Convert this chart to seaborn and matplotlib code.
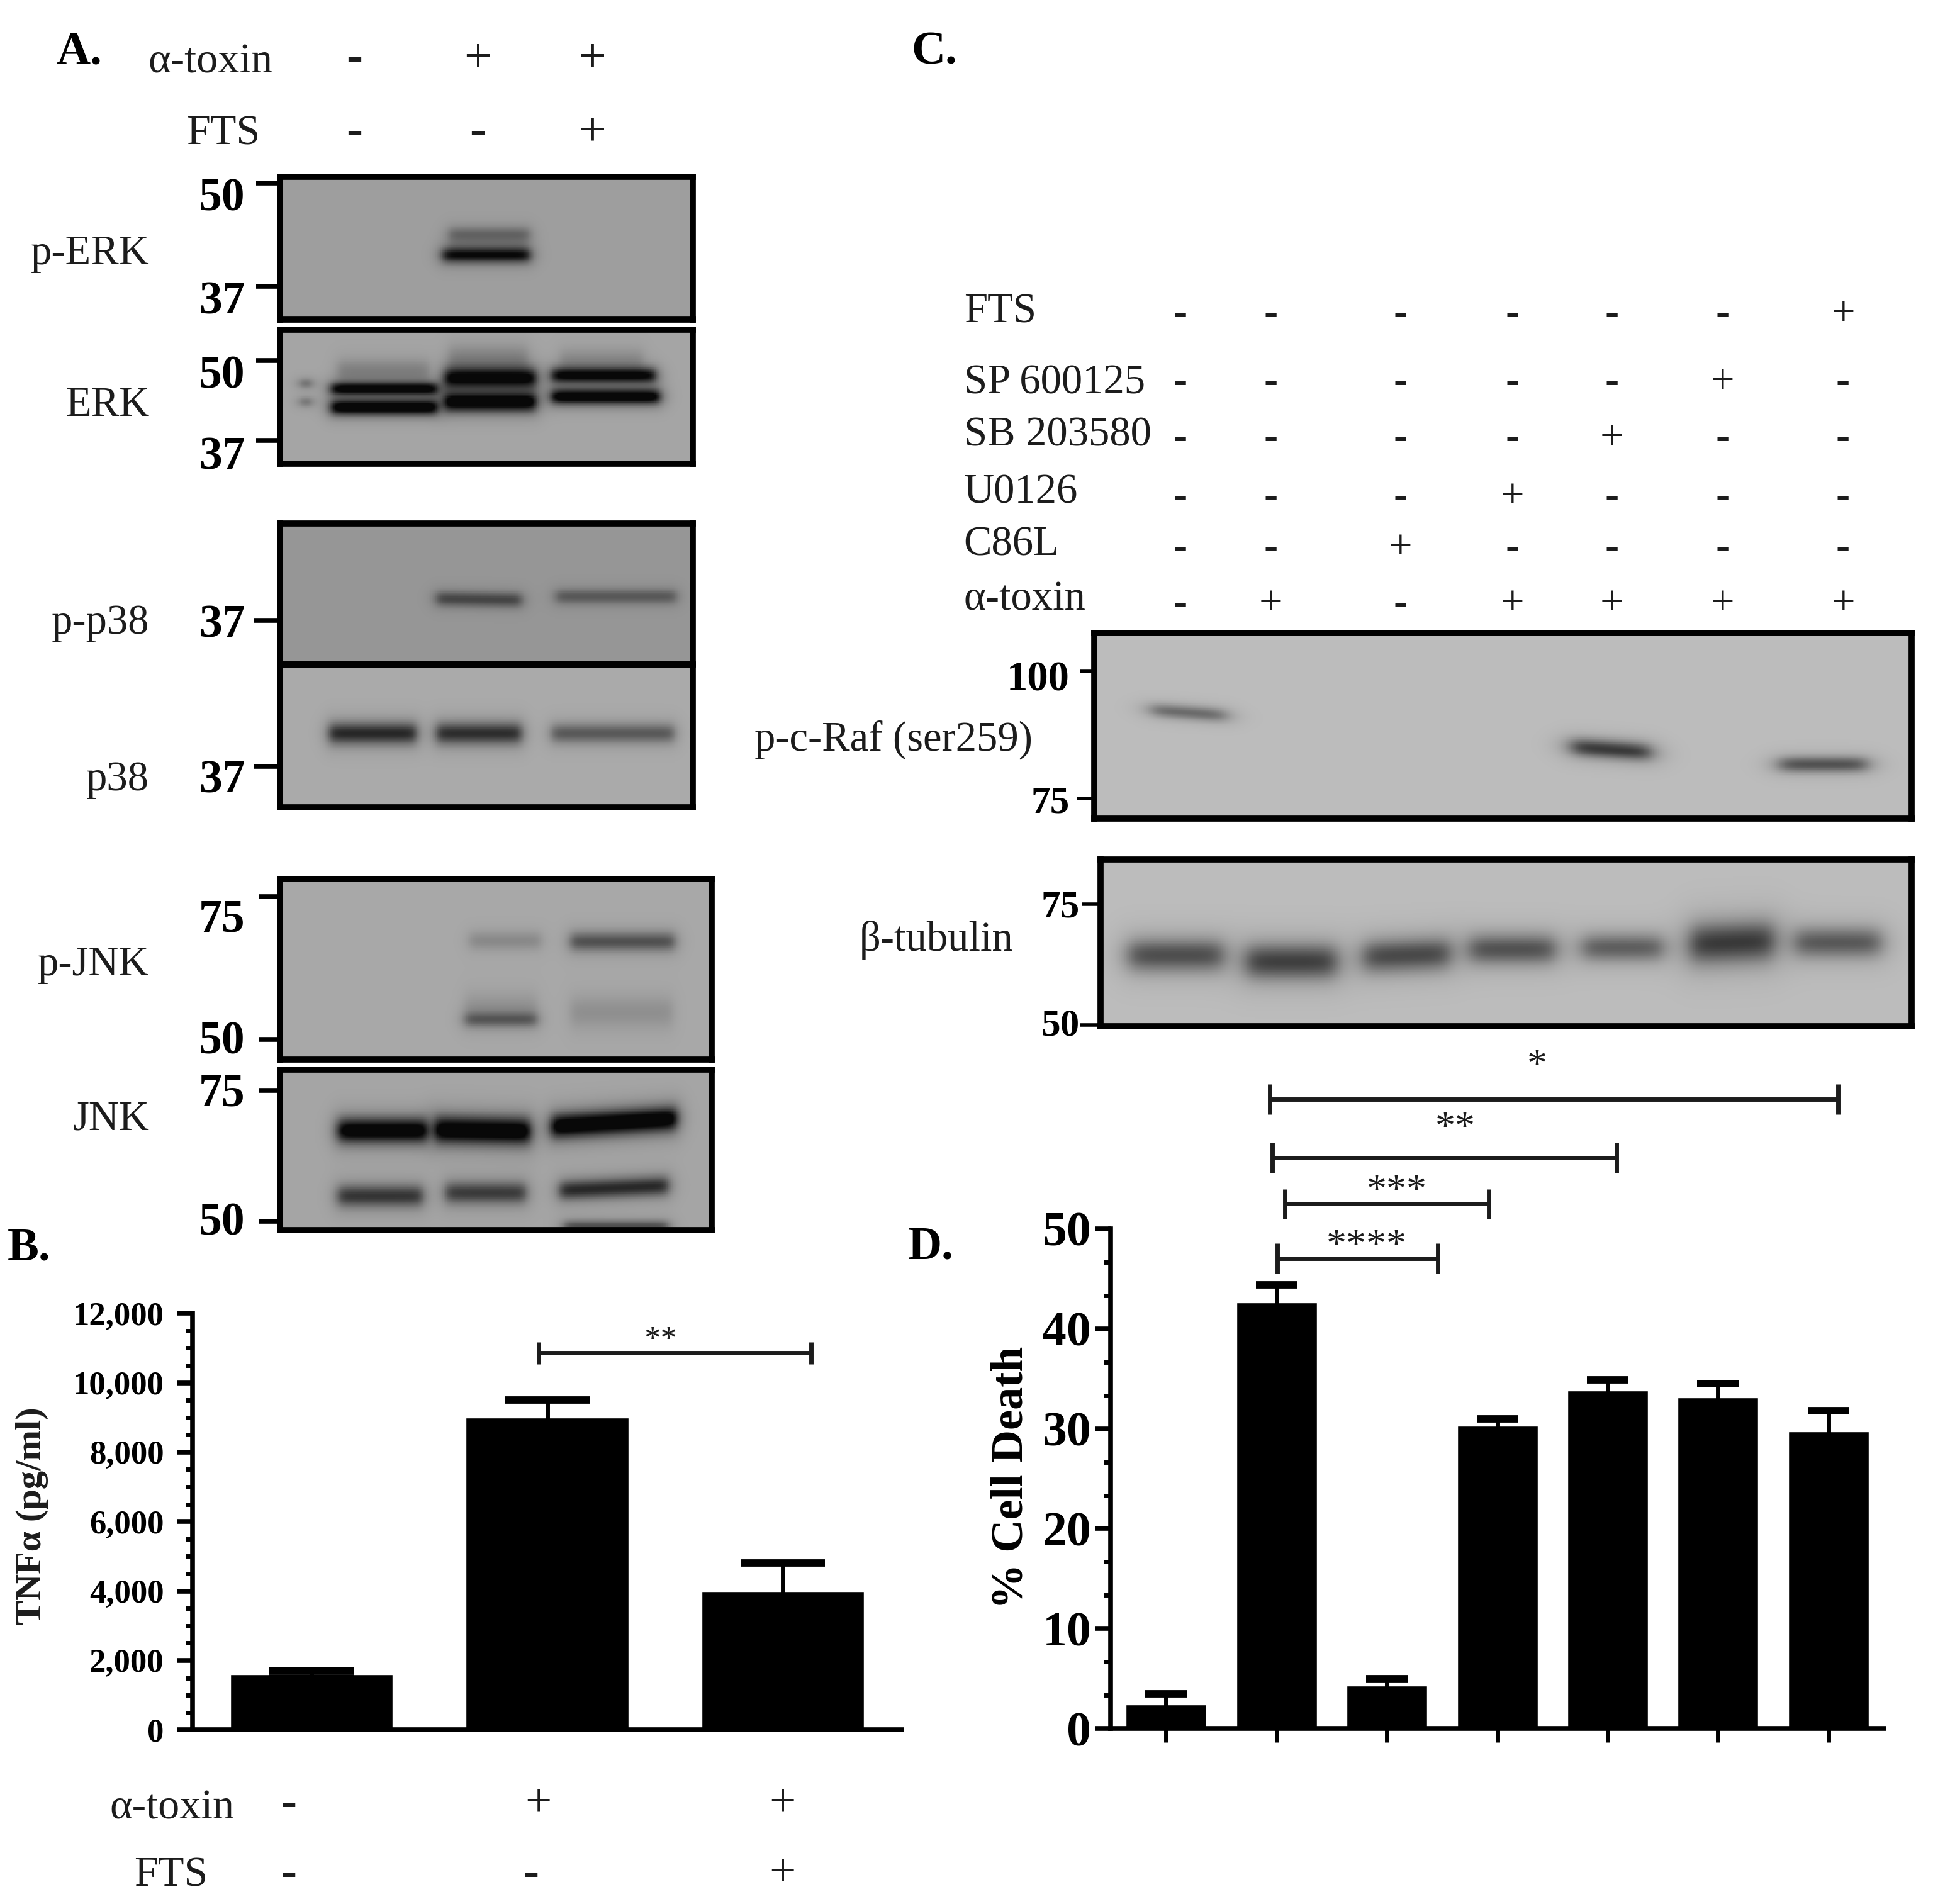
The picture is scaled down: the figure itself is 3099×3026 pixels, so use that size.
import numpy as np
import matplotlib.pyplot as plt
from matplotlib.ticker import AutoMinorLocator
import seaborn as sns

# panel B values
tnf_groups = ["ctrl", "toxin", "toxin+FTS"]
tnf_mean = [1600, 9000, 4000]
tnf_err = [100, 500, 800]
tnf_ticks = [0, 2000, 4000, 6000, 8000, 10000, 12000]
tnf_ticklabels = ["0", "2,000", "4,000", "6,000", "8,000", "10,000", "12,000"]

# panel D values
death_groups = ["ctrl", "toxin", "C86L", "U0126", "SB", "SP", "FTS"]
death_mean = [2.4, 42.6, 4.3, 30.3, 33.8, 33.1, 29.7]
death_err = [1.1, 1.8, 0.7, 0.7, 1.1, 1.4, 2.1]
death_ticks = [0, 10, 20, 30, 40, 50]

# blots: gray background, then bands as % of panel (start, end, row, half thickness, darkness, tilt)
perk_bg = 158
perk_bands = [(39.5, 60.5, 55, 3.5, 115, 0), (41, 60.5, 40, 3.5, 38, 0), (41, 60, 47, 5, 18, 0)]
erk_bg = 165
erk_bands = [(12.5, 38, 44, 3.2, 135, 0), (12.5, 38, 58, 3.8, 150, 0), (40, 62, 36, 5, 135, 0),
             (40, 62, 54, 4.8, 150, 0), (66, 91, 34, 3.8, 130, 0), (66, 92, 50, 3.8, 150, 0),
             (5, 7.5, 40, 2.5, 50, 0), (5, 7.5, 54, 2.5, 45, 0), (14, 36, 31, 6, 30, 0),
             (41, 60, 22, 7, 28, 0), (68, 88, 23, 6, 22, 0)]
pp38_bg = 150
pp38_bands = [(38, 58.5, 54, 3.5, 65, 1), (67, 96, 52, 3.5, 50, 0)]
p38_bg = 170
p38_bands = [(12, 33, 48, 5, 105, 0), (38, 58.5, 48, 5, 100, 0), (66, 95.5, 48, 4.5, 65, 0)]
pjnk_bg = 168
pjnk_bands = [(44, 60.5, 34, 3.5, 25, 0), (67.5, 91.5, 34.5, 3.5, 70, 0), (43, 59.5, 78, 2.8, 55, 0),
              (43, 59.5, 72, 6, 18, 0), (67.5, 91, 74, 6, 20, 0)]
jnk_bg = 165
jnk_bands = [(13.5, 34, 38, 5, 150, 0), (36, 58, 38, 5.5, 155, 1), (63, 92, 33, 5, 155, -5),
             (13.5, 33, 79, 4.5, 90, 0), (38.5, 57, 77, 4.5, 85, 0), (65, 90, 74, 4, 100, -3),
             (66, 90, 98, 2.5, 70, 0)]
raf_bg = 188
raf_bands = [(7, 16, 43, 2.5, 65, 3), (58.5, 68, 63, 3.2, 105, 3), (84, 94.5, 71, 2.8, 85, 0)]
tub_bg = 188
tub_bands = [(3.5, 15, 57.6, 6.5, 88, 0), (18, 29, 61.5, 7, 100, 0), (32.5, 43, 57.6, 6.5, 92, -2),
             (45.6, 56, 54, 6, 85, 0), (59.5, 69.3, 53, 5.5, 75, 0), (72.8, 83, 50, 8, 105, -2),
             (85.8, 96.2, 50, 6, 80, 0)]

# condition tables
a_rows = ["α-toxin", "FTS"]
a_signs = [["-", "+", "+"], ["-", "-", "+"]]
c_rows = ["FTS", "SP 600125", "SB 203580", "U0126", "C86L", "α-toxin"]
c_signs = [["-", "-", "-", "-", "-", "-", "+"],
           ["-", "-", "-", "-", "-", "+", "-"],
           ["-", "-", "-", "-", "+", "-", "-"],
           ["-", "-", "-", "+", "-", "-", "-"],
           ["-", "-", "+", "-", "-", "-", "-"],
           ["-", "+", "-", "+", "+", "+", "+"]]

REF_W, REF_H = 1568.0, 1531.0
SERIF = "Liberation Serif"
INK = "#1c1c1c"

sns.set_theme(style="ticks")
plt.rcParams["font.family"] = [SERIF, "DejaVu Serif"]

fig = plt.figure(figsize=(30.99, 30.26), dpi=100, facecolor="white")


def box(x0, x1, y0, y1):
    """Axes rect from reference coordinates (y down)."""
    return [x0 / REF_W, 1 - y1 / REF_H, (x1 - x0) / REF_W, (y1 - y0) / REF_H]


def blot_matrix(bg, bands, nx, ny):
    xx, yy = np.meshgrid(np.linspace(0, 100, nx), np.linspace(0, 100, ny))
    dark = np.zeros_like(xx)
    for x0, x1, row, thick, depth, tilt in bands:
        thick = thick * 1.45
        mid = (x0 + x1) / 2
        centre = row + tilt * (xx - mid) / (x1 - x0)
        across = 0.5 * (np.tanh((xx - x0) / 1.3) - np.tanh((xx - x1) / 1.3))
        core = np.exp(-(((yy - centre) / thick) ** 2))
        halo = 0.5 * (np.tanh((xx - x0 + 1.5) / 2.0) - np.tanh((xx - x1 - 1.5) / 2.0))
        halo = halo * np.exp(-(((yy - centre) / (thick * 1.8)) ** 2))
        dark += depth * across * core + 0.25 * depth * halo
    return np.clip(bg - dark, 8, 255)


def draw_blot(bg, bands, x0, x1, y0, y1, lw=7):
    ax = fig.add_axes(box(x0, x1, y0, y1))
    nx, ny = int((x1 - x0) * 1.5), int((y1 - y0) * 1.5)
    sns.heatmap(blot_matrix(bg, bands, nx, ny), ax=ax, cmap="gray", vmin=0, vmax=255,
                cbar=False, xticklabels=False, yticklabels=False, rasterized=True)
    for spine in ax.spines.values():
        spine.set_visible(True)
        spine.set_color("black")
        spine.set_linewidth(lw)
    return ax


draw_blot(perk_bg, perk_bands, 225, 557, 142, 257)
draw_blot(erk_bg, erk_bands, 225, 557, 265, 373)
draw_blot(pp38_bg, pp38_bands, 225, 557, 421, 534)
draw_blot(p38_bg, p38_bands, 225, 557, 535, 649)
draw_blot(pjnk_bg, pjnk_bands, 225, 572, 707, 852)
draw_blot(jnk_bg, jnk_bands, 225, 572, 860, 989)
draw_blot(raf_bg, raf_bands, 880, 1537, 509, 658)
draw_blot(tub_bg, tub_bands, 885, 1537, 691, 825)


def bar_panel(rect, groups, means, errs, width, cap, ylim, ticks, labels, minor, tick_size, pad):
    ax = fig.add_axes(rect, facecolor="none")
    sns.barplot(x=groups, y=means, color="black", saturation=1, width=width,
                errorbar=None, ax=ax)
    ax.errorbar(range(len(groups)), means, yerr=errs, fmt="none", ecolor="black",
                elinewidth=5, capsize=cap, capthick=8.5)
    ax.set_xlim(-0.505, len(groups) - 0.495)
    ax.set_ylim(*ylim)
    ax.set_yticks(ticks)
    ax.set_yticklabels(labels, fontsize=tick_size, fontweight="bold", color="black")
    ax.yaxis.set_minor_locator(AutoMinorLocator(minor))
    ax.tick_params(axis="y", which="major", length=17, width=5.5, pad=pad, color="black")
    ax.tick_params(axis="y", which="minor", length=8, width=5, color="black")
    sns.despine(ax=ax)
    for side in ("left", "bottom"):
        ax.spines[side].set_linewidth(5.5)
        ax.spines[side].set_color("black")
    return ax


ax_b = bar_panel(box(155, 725, 1056, 1391), tnf_groups, tnf_mean, tnf_err, 0.69, 48,
                 (0, 12000), tnf_ticks, tnf_ticklabels, 4, 38, 16)
ax_b.set_xticks([])
ax_b.set_xlabel("")

ax_d = bar_panel(box(893, 1515, 988, 1390), death_groups, death_mean, death_err, 0.73, 24,
                 (0, 50), death_ticks, [str(t) for t in death_ticks], 3, 56, 5)
ax_d.set_xticks(range(len(death_groups)))
ax_d.set_xticklabels([])
ax_d.tick_params(axis="x", length=16, width=5, color="black")
ax_d.set_xlabel("")

# everything annotated sits on one overlay in reference coordinates
ov = fig.add_axes([0, 0, 1, 1], facecolor="none")
ov.set_xlim(0, REF_W)
ov.set_ylim(REF_H, 0)
ov.axis("off")


def say(x, y, s, size=47, ha="left", weight="normal", color=INK, **kw):
    ov.text(x, y + 3, s, fontsize=size, ha=ha, va="center", fontweight=weight, color=color, **kw)


for x, y, s in [(45, 39, "A."), (6, 1001, "B."), (733, 39, "C."), (730, 1000, "D.")]:
    say(x, y, s, size=54, weight="bold", color="black")

# panel A conditions
for x, y, s in [(119, 47, a_rows[0]), (150, 105, a_rows[1])]:
    say(x, y, s, size=49)
for y, row in zip([45, 104], a_signs):
    for x, s in zip([285, 384, 476], row):
        say(x, y, s, size=56, ha="center", weight="bold" if s == "-" else "normal")

# blot names
for y, s in [(201, "p-ERK"), (323, "ERK"), (498, "p-p38"), (624, "p38"), (773, "p-JNK"), (897, "JNK")]:
    say(120, y, s, size=48, ha="right")

# size markers: (tick start, tick end, tick y, label y, label text)
mw_a = [(206, 224, 147, 157, "50"), (206, 224, 230, 240, "37"), (206, 224, 290, 300, "50"),
        (206, 224, 354, 365, "37"), (204, 224, 499, 500, "37"), (204, 224, 616, 625, "37"),
        (208, 224, 721, 737, "75"), (208, 224, 836, 835, "50"), (208, 224, 877, 877, "75"),
        (208, 224, 982, 981, "50")]
for x0, x1, ty, ly, s in mw_a:
    ov.plot([x0, x1], [ty, ty], color="black", lw=5.5, solid_capstyle="butt")
    say(197, ly, s, size=53, ha="right", weight="bold", color="black")

mw_c = [(868, 880, 540, 544, "100", 860, 48), (866, 880, 642, 643, "75", 860, 44),
        (870, 885, 727, 727, "75", 868, 44), (868, 885, 824, 822, "50", 868, 44)]
for x0, x1, ty, ly, s, rx, size in mw_c:
    ov.plot([x0, x1], [ty, ty], color="black", lw=4, solid_capstyle="butt")
    say(rx, ly, s, size=size, ha="right", weight="bold", color="black")

# panel C conditions
for y, s in zip([248, 305, 347, 393, 435, 479], c_rows):
    say(775, y, s, size=48)
for y, row in zip([250, 305, 350, 397, 438, 483], c_signs):
    for x, s in zip([949, 1022, 1126, 1216, 1296, 1385, 1482], row):
        say(x, y, s, size=48, ha="center", weight="bold" if s == "-" else "normal")
say(830, 592, "p-c-Raf (ser259)", size=48, ha="right")
say(815, 753, "β-tubulin", size=48, ha="right")

# panel B conditions
say(88, 1451, a_rows[0], size=49)
say(108, 1505, a_rows[1], size=49)
for y, xs, row in zip([1448, 1504], [[232, 433, 629], [232, 427, 629]], a_signs):
    for x, s in zip(xs, row):
        say(x, y, s, size=54, ha="center", weight="bold" if s == "-" else "normal")

# axis titles
say(26, 1216, "TNFα (pg/ml)", size=42, ha="center", weight="bold", rotation=90)
say(813, 1185, "% Cell Death", size=52, ha="center", weight="bold", color="black", rotation=90)

# significance brackets: left, right, y, half height, star x, star y, stars
brackets = [(1021, 1478, 884, 12, 1236, 855, "*"), (1023, 1300, 931, 12, 1170, 905, "**"),
            (1033, 1197, 968, 12, 1123, 956, "***"), (1027, 1156, 1012, 12, 1099, 1000, "****"),
            (433, 652, 1088, 9, 531, 1075, "**")]
for x0, x1, y, h, sx, sy, stars in brackets:
    ov.plot([x0, x1], [y, y], color=INK, lw=5, solid_capstyle="butt")
    ov.plot([x0, x0], [y - h, y + h], color=INK, lw=5, solid_capstyle="butt")
    ov.plot([x1, x1], [y - h, y + h], color=INK, lw=5, solid_capstyle="butt")
    say(sx, sy, stars, size=46 if sx > 600 else 38, ha="center")

fig.savefig("out.png", dpi=100, facecolor="white")
plt.close(fig)
